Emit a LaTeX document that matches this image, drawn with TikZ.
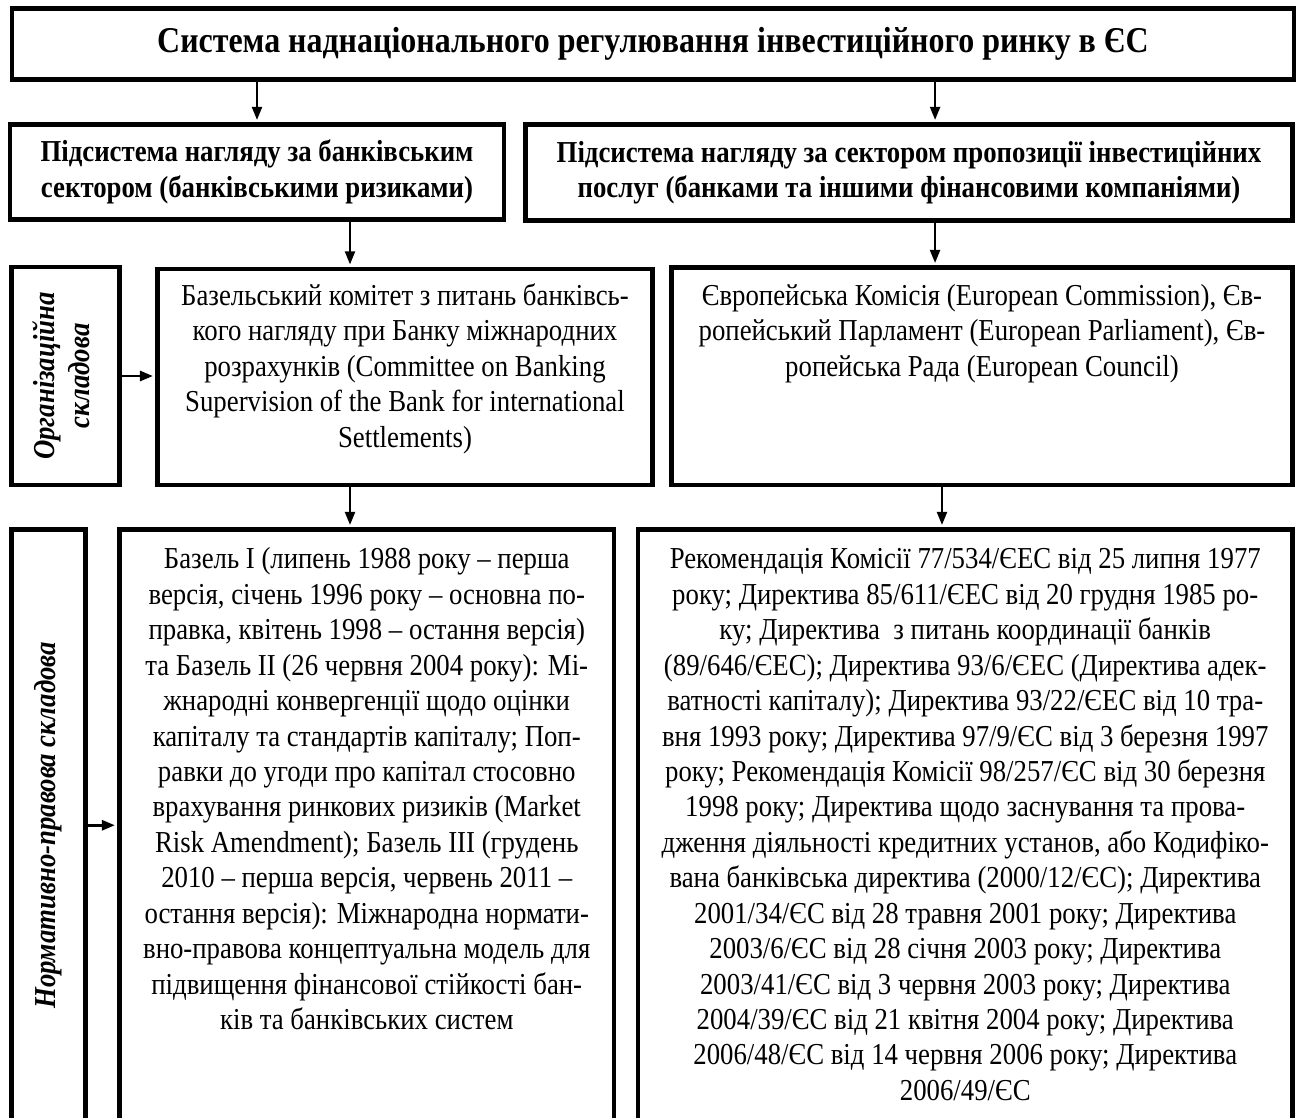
\documentclass[tikz,border=0pt]{standalone}
\usepackage{fontspec}
\setmainfont{Liberation Serif}[FakeStretch=0.88]
\usetikzlibrary{arrows.meta,positioning}

\begin{document}
\begin{tikzpicture}[x=0.46pt,y=-0.46pt, every node/.style={font=\fontsize{14pt}{16.3pt}\selectfont}, box/.style={draw,line width=2.2pt,inner sep=0pt}, txt/.style={anchor=north,yshift=-6.3pt,align=center,inner sep=0pt}, head/.style={font=\fontsize{14pt}{16.3pt}\selectfont\bfseries,align=center}, side/.style={box,rotate=90,align=center,font=\fontsize{14pt}{16.3pt}\selectfont\bfseries\itshape}, arr/.style={-{Triangle[length=6pt,width=4.6pt]},line width=1pt,shorten >=1pt}]
\useasboundingbox (0,0) rectangle (1302,1117);
% top level
\node[box,head,font=\fontsize{16.7pt}{19pt}\selectfont\bfseries,minimum width=589.7pt,minimum height=32.4pt] (title) at (653,44) {Система наднаціонального регулювання інвестиційного ринку в ЄС};
\node[box,head,minimum width=227.2pt,minimum height=43.7pt] (lsub) at (257,172) {Підсистема нагляду за банківським\\сектором (банківськими ризиками)};
\node[box,head,minimum width=352.8pt,minimum height=44.2pt] (rsub) at (909,172.5) {Підсистема нагляду за сектором пропозиції інвестиційних\\послуг (банками та іншими фінансовими компаніями)};
% organisational part
\node[side,minimum width=100.3pt,minimum height=49.7pt] (orgl) at (65.5,376) {Організаційна\\складова\rule[-4pt]{0pt}{1pt}};
\node[box,minimum width=227.7pt,minimum height=99.4pt,label={[txt]north:{\strut Базельський комітет з питань банківсь-\\кого нагляду при Банку міжнародних\\розрахунків (Committee on Banking\\Supervision of the Bank for international\\Settlements)}}] (basel) at (405,377) {};
\node[box,minimum width=285.7pt,minimum height=100pt,label={[txt,yshift=-0.6pt]north:{\strut Європейська Комісія (European Commission), Єв-\\ропейський Парламент (European Parliament), Єв-\\ропейська Рада (European Council)}}] (euro) at (982,376.25) {};
% normative part
\node[side,minimum width=272.1pt,minimum height=34pt] (norml) at (48.5,825.25) {Нормативно-правова складова};
\node[box,minimum width=227.5pt,minimum height=272.1pt,label={[txt,yshift=-1.3pt]north:{\strut Базель I (липень 1988 року – перша\\версія, січень 1996 року – основна по-\\правка, квітень 1998 – остання версія)\\та Базель II (26 червня 2004 року): Мі-\\жнародні конвергенції щодо оцінки\\капіталу та стандартів капіталу; Поп-\\равки до угоди про капітал стосовно\\врахування ринкових ризиків (Market\\Risk Amendment); Базель III (грудень\\2010 – перша версія, червень 2011 –\\остання версія): Міжнародна нормати-\\вно-правова концептуальна модель для\\підвищення фінансової стійкості бан-\\ків та банківських систем}}] (basdoc) at (366.75,825.25) {};
\node[box,minimum width=301.1pt,minimum height=272.1pt,label={[txt,yshift=-1.3pt]north:{\strut Рекомендація Комісії 77/534/ЄЕС від 25 липня 1977\\року; Директива 85/611/ЄЕС від 20 грудня 1985 ро-\\ку; Директива\ \ з питань координації банків\\(89/646/ЄЕС); Директива 93/6/ЄЕС (Директива адек-\\ватності капіталу); Директива 93/22/ЄЕС від 10 тра-\\вня 1993 року; Директива 97/9/ЄС від 3 березня 1997\\року; Рекомендація Комісії 98/257/ЄС від 30 березня\\1998 року; Директива щодо заснування та прова-\\дження діяльності кредитних установ, або Кодифіко-\\вана банківська директива (2000/12/ЄС); Директива\\2001/34/ЄС від 28 травня 2001 року; Директива\\2003/6/ЄС від 28 січня 2003 року; Директива\\2003/41/ЄС від 3 червня 2003 року; Директива\\2004/39/ЄС від 21 квітня 2004 року; Директива\\2006/48/ЄС від 14 червня 2006 року; Директива\\2006/49/ЄС}}] (eudoc) at (965.25,825.25) {};
% arrows
\draw[arr] (title.south -| lsub.north) -- (lsub.north);
\draw[arr] ([xshift=12pt]rsub.north |- title.south) -- ([xshift=12pt]rsub.north);
\draw[arr] ([xshift=-25.3pt]basel.north |- lsub.south) -- ([xshift=-25.3pt]basel.north);
\draw[arr] ([xshift=-21.6pt]euro.north |- rsub.south) -- ([xshift=-21.6pt]euro.north);
\draw[arr] ([xshift=-7.7pt]basdoc.north |- basel.south) -- ([xshift=-7.7pt]basdoc.north);
\draw[arr] ([xshift=-10.7pt]eudoc.north |- euro.south) -- ([xshift=-10.7pt]eudoc.north);
\draw[arr,line width=1.3pt] (orgl.south) -- (orgl.south -| basel.west);
\draw[arr,line width=1.3pt] (norml.south) -- (norml.south -| basdoc.west);
\end{tikzpicture}
\end{document}
